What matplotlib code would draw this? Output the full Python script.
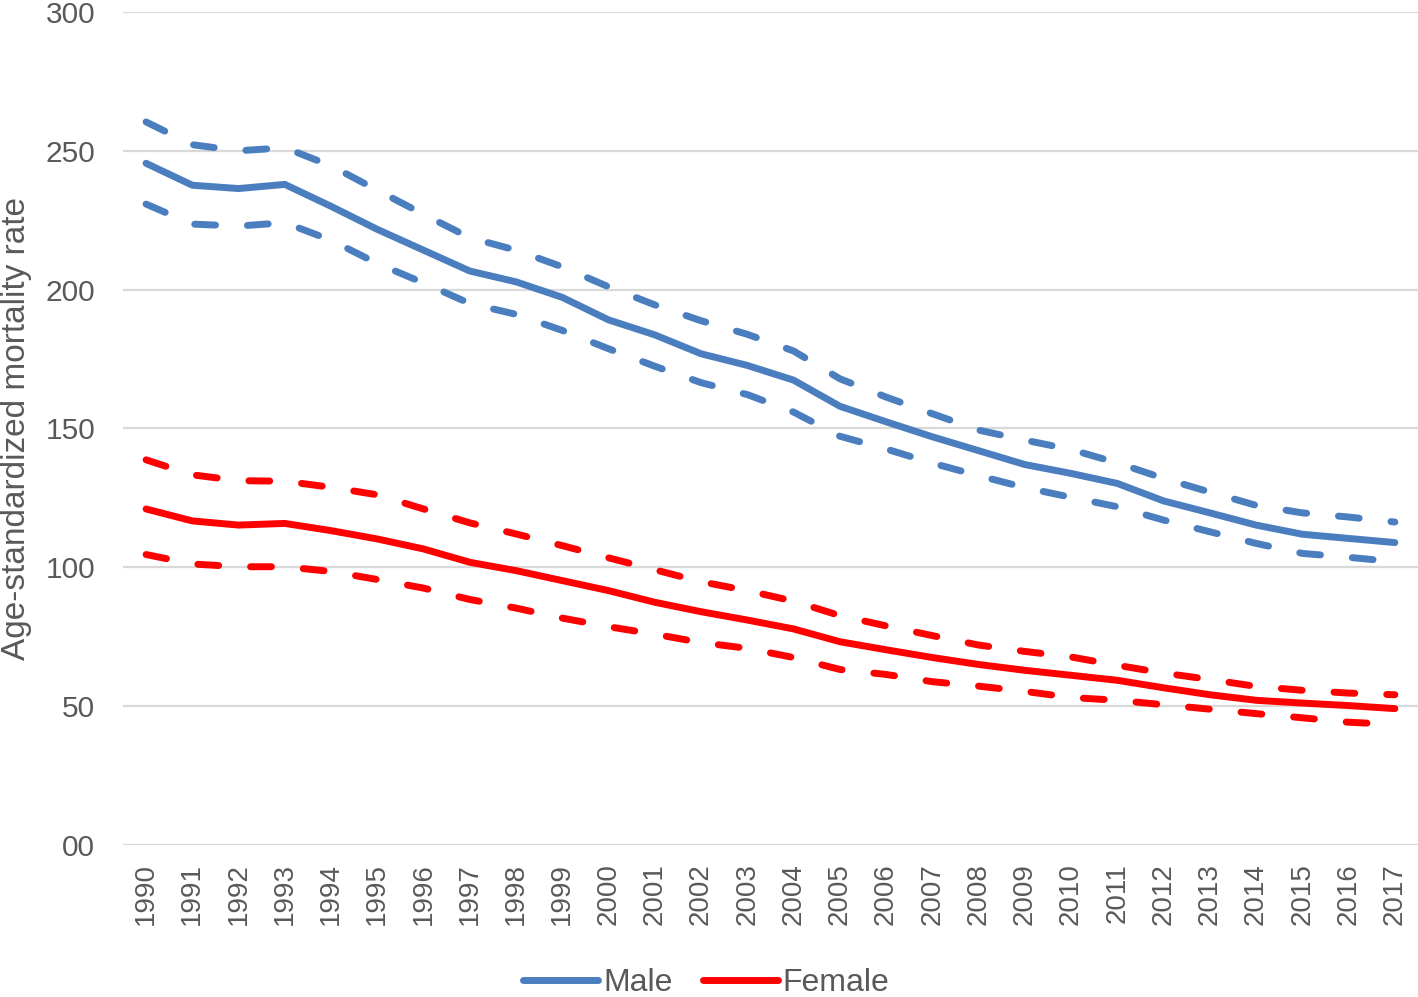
import matplotlib

matplotlib.use("Agg")
import matplotlib.pyplot as plt
from matplotlib.lines import Line2D

# --- data ---
years = [str(y) for y in range(1990, 2018)]

male = [245.5, 237.6, 236.4, 237.9, 230.0, 221.7, 214.2, 206.7, 202.8, 197.2,
        189.1, 183.7, 176.9, 172.7, 167.4, 158.0, 152.4, 147.0, 142.0, 137.0,
        133.8, 130.2, 123.9, 119.6, 115.2, 111.9, 110.4, 108.9]
male_upper = [260.4, 252.2, 250.0, 251.1, 244.6, 235.8, 227.1, 218.7, 214.2, 208.2,
              201.0, 194.5, 188.8, 183.9, 177.9, 167.9, 161.3, 155.3, 149.4, 145.8,
              142.4, 137.6, 132.0, 127.1, 122.3, 119.6, 118.1, 116.3]
male_lower = [230.8, 223.6, 222.9, 224.1, 217.8, 209.4, 202.4, 195.0, 191.1, 185.3,
              178.7, 172.4, 166.5, 162.2, 155.9, 147.2, 142.6, 137.5, 133.0, 128.7,
              125.2, 121.8, 117.0, 112.8, 108.6, 105.0, 103.6, 102.0]

female = [121.0, 116.7, 115.2, 115.8, 113.2, 110.2, 106.6, 101.8, 98.8, 95.2,
          91.6, 87.4, 84.0, 81.0, 77.8, 73.2, 70.3, 67.5, 65.0, 62.9,
          61.1, 59.3, 56.6, 54.1, 52.1, 51.1, 50.2, 49.1]
female_upper = [138.7, 133.3, 131.2, 131.0, 128.8, 126.1, 121.0, 116.0, 112.0, 107.8,
                103.4, 99.1, 94.8, 91.6, 87.8, 82.6, 78.9, 75.4, 72.0, 69.7,
                67.7, 64.7, 61.9, 59.6, 57.1, 55.7, 54.7, 54.1]
female_lower = [104.6, 101.2, 100.2, 100.2, 98.5, 95.6, 92.5, 88.4, 85.3, 81.7,
                78.6, 75.9, 72.9, 70.8, 67.5, 63.2, 61.4, 58.8, 57.2, 55.3,
                53.1, 52.1, 50.5, 48.9, 47.3, 45.8, 44.2, 43.4]

y_ticks = [0, 50, 100, 150, 200, 250, 300]
y_tick_labels = ["00", "50", "100", "150", "200", "250", "300"]

_BLUE = "#4a7ebf"
_RED = "#ff0000"
_TEXT = "#595959"
_GRID = "#d9d9d9"

plt.rcParams["font.family"] = ["Liberation Sans", "DejaVu Sans"]

fig = plt.figure(figsize=(14.18, 9.97), dpi=100)
ax = fig.add_axes([0.0867, 0.1525, 0.9133, 0.8355])

x = list(range(len(years)))
dash = (3.0, 4.6)
series = [
    (male, male_upper, male_lower, _BLUE),
    (female, female_upper, female_lower, _RED),
]
for mid, hi, lo, color in series:
    for band in (hi, lo):
        ax.plot(x, band, color=color, lw=5, dashes=dash,
                dash_capstyle="round", solid_joinstyle="round", zorder=3)
    ax.plot(x, mid, color=color, lw=5, solid_capstyle="round",
            solid_joinstyle="round", zorder=4)

ax.set_xlim(-0.5, len(years) - 0.5)
ax.set_ylim(0, 300)
ax.set_yticks(y_ticks)
ax.set_yticklabels(y_tick_labels, fontsize=21.5, color=_TEXT)
ax.set_xticks(x)
ax.set_xticklabels(years, rotation=90, fontsize=20, color=_TEXT)
ax.tick_params(axis="y", length=0, pad=20)
ax.tick_params(axis="x", length=0, pad=13)
ax.yaxis.grid(True, color=_GRID, linewidth=1.6, zorder=0)
ax.set_axisbelow(True)
for side in ("top", "right", "left", "bottom"):
    ax.spines[side].set_visible(False)

# y label placed by hand so it sits flush with the left edge like the original
fig.text(17 / 1418, 0.5705, "Age-standardized mortality rate", rotation=90,
         ha="center", va="center", fontsize=24, color=_TEXT)

handles = [
    Line2D([], [], color=_BLUE, lw=5, solid_capstyle="round"),
    Line2D([], [], color=_RED, lw=5, solid_capstyle="round"),
]
leg = fig.legend(handles, ["Male", "Female"], loc="lower center",
                 bbox_to_anchor=(0.498, -0.03), ncol=2, frameon=False,
                 fontsize=23, handlelength=2.35, handletextpad=0.15,
                 columnspacing=0.95)
for t in leg.get_texts():
    t.set_color(_TEXT)

fig.savefig("out.png", dpi=100)
